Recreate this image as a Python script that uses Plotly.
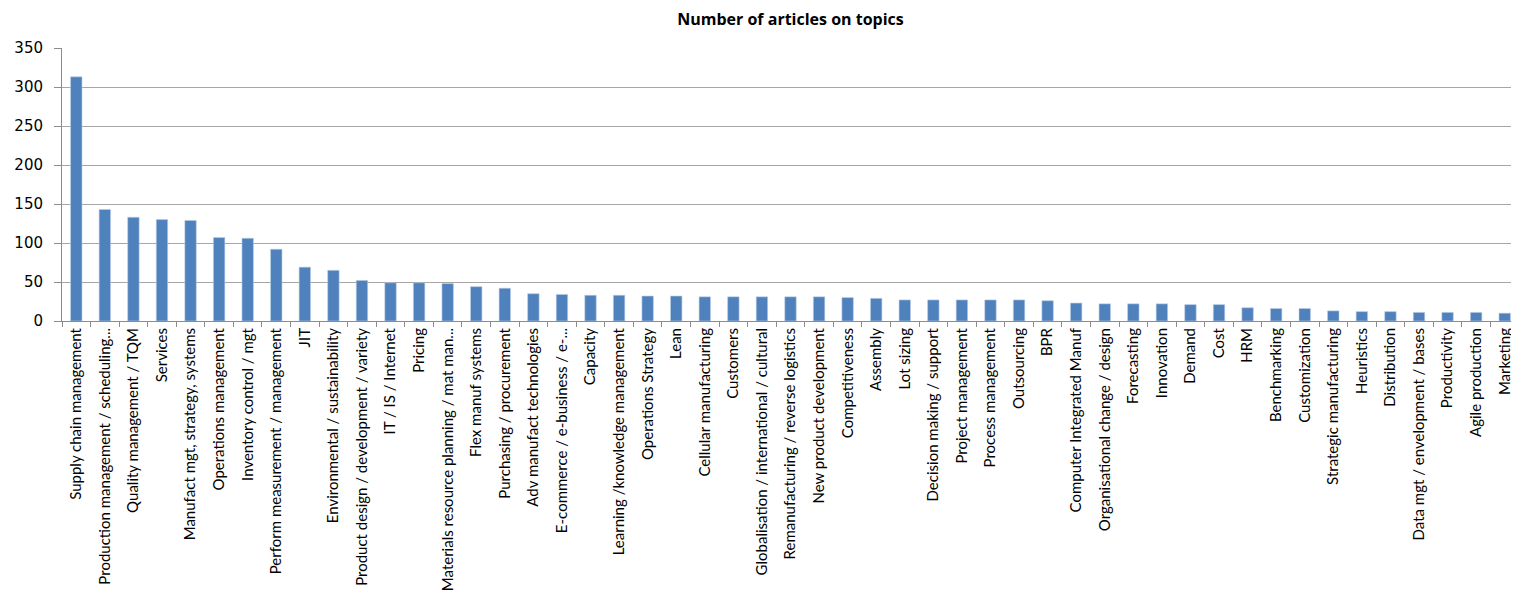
import plotly.graph_objects as go

categories = [
    "Supply chain management",
    "Production management / scheduling...",
    "Quality management / TQM",
    "Services",
    "Manufact mgt, strategy, systems",
    "Operations management",
    "Inventory control / mgt",
    "Perform measurement / management",
    "JIT",
    "Environmental / sustainability",
    "Product design / development / variety",
    "IT / IS / Internet",
    "Pricing",
    "Materials resource planning / mat man...",
    "Flex manuf systems",
    "Purchasing / procurement",
    "Adv manufact technologies",
    "E-commerce / e-business / e-...",
    "Capacity",
    "Learning /knowledge management",
    "Operations Strategy",
    "Lean",
    "Cellular manufacturing",
    "Customers",
    "Globalisation / international / cultural",
    "Remanufacturing / reverse logistics",
    "New product development",
    "Competitiveness",
    "Assembly",
    "Lot sizing",
    "Decision making / support",
    "Project management",
    "Process management",
    "Outsourcing",
    "BPR",
    "Computer Integrated Manuf",
    "Organisational change / design",
    "Forecasting",
    "Innovation",
    "Demand",
    "Cost",
    "HRM",
    "Benchmarking",
    "Customization",
    "Strategic manufacturing",
    "Heuristics",
    "Distribution",
    "Data mgt / envelopment / bases",
    "Productivity",
    "Agile production",
    "Marketing",
]

articles = [313, 143, 133, 130, 129, 107, 106, 92, 69, 65,
            52, 49, 49, 48, 44, 42, 35, 34, 33, 33,
            32, 32, 31, 31, 31, 31, 31, 30, 29, 27,
            27, 27, 27, 27, 26, 23, 22, 22, 22, 21,
            21, 17, 16, 16, 13, 12, 12, 11, 11, 11, 10]

y_ticks = [0, 50, 100, 150, 200, 250, 300, 350]

fig = go.Figure(go.Bar(
    x=categories,
    y=articles,
    marker=dict(color="#4F81BD", line=dict(color="#B9CDE5", width=0.6)),
))

# page body has an 8px default margin; the figure is sized to fill the rest
fig.update_layout(
    width=1511, height=583,
    margin=dict(l=54, r=0, t=40, b=270),
    paper_bgcolor="white", plot_bgcolor="white",
    bargap=0.6,
    showlegend=False,
    font=dict(family="Lato, sans-serif", color="black"),
    title=dict(text="<b>Number of articles on topics</b>", x=0.5, xref="paper",
               xanchor="center", y=0.981, yanchor="middle",
               font=dict(family="Open Sans, sans-serif", size=16, color="black")),
)

fig.update_xaxes(
    type="category",
    tickangle=-90,
    tickfont=dict(size=15, family="Lato, sans-serif"),
    showgrid=False,
    showline=True, linecolor="#8C8C8C", linewidth=1,
    ticks="outside", ticklen=5, tickcolor="#8C8C8C",
    tickson="boundaries",
    automargin=False,
)

fig.update_yaxes(
    range=[0, 350],
    tickvals=y_ticks,
    tickfont=dict(size=15, family="DejaVu Sans, sans-serif"),
    showgrid=True, gridcolor="#A6A6A6", gridwidth=1,
    showline=True, linecolor="#8C8C8C", linewidth=1,
    ticks="outside", ticklen=7, tickcolor="#8C8C8C",
    ticklabelstandoff=8,
    zeroline=False,
    automargin=False,
)

fig.write_html("out.html")
